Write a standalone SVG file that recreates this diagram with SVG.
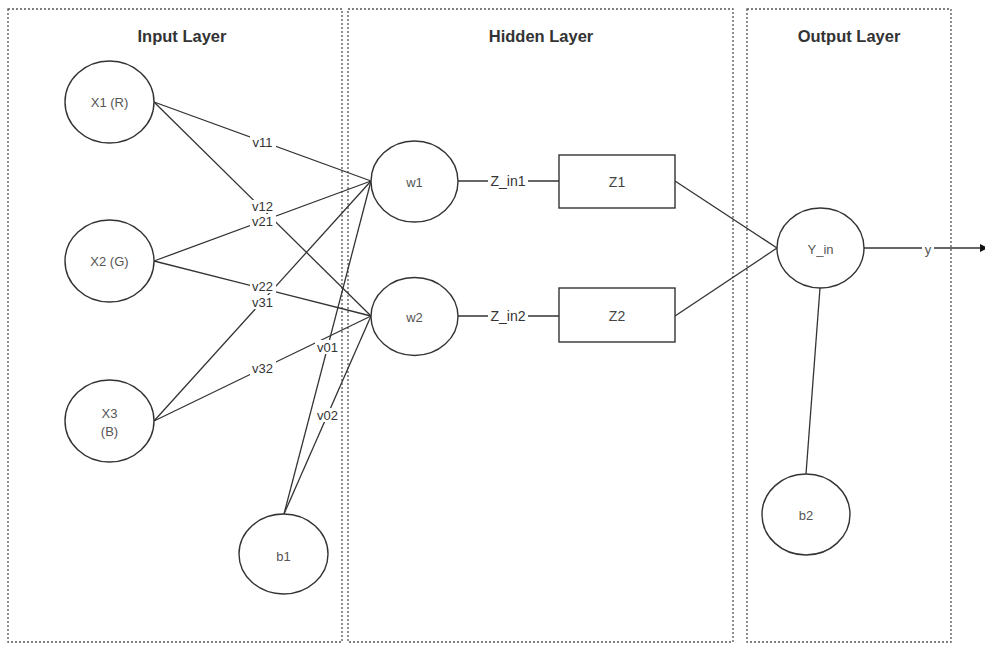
<svg xmlns="http://www.w3.org/2000/svg" width="985" height="646" viewBox="0 0 985 646">
  <defs>
    <style>
      .lane { fill: none; stroke: #555; stroke-width: 1.3; stroke-dasharray: 2 2; }
      .title { font-family: "Liberation Sans", Arial, sans-serif; font-size: 16.5px; font-weight: bold; fill: #333; text-anchor: middle; }
      .node { fill: #fff; stroke: #333; stroke-width: 1.4; }
      .ntext { font-family: "Liberation Sans", Arial, sans-serif; font-size: 13px; fill: #555; text-anchor: middle; dominant-baseline: central; }
      .btext { font-family: "Liberation Sans", Arial, sans-serif; font-size: 14px; fill: #444; text-anchor: middle; dominant-baseline: central; }
      .edge { fill: none; stroke: #333; stroke-width: 1.3; }
      .elabel { font-family: "Liberation Sans", Arial, sans-serif; font-size: 13px; fill: #333; text-anchor: middle; dominant-baseline: central; }
      .elabel-l { font-family: "Liberation Sans", Arial, sans-serif; font-size: 14px; fill: #333; text-anchor: middle; dominant-baseline: central; }
      .lbg { fill: #fff; }
    </style>
    <marker id="arrow" viewBox="0 0 10 10" refX="9" refY="5" markerWidth="8" markerHeight="8" orient="auto" markerUnits="userSpaceOnUse">
      <path d="M0,0 L10,5 L0,10 Z" fill="#111"/>
    </marker>
  </defs>

  <rect width="985" height="646" fill="#fff"/>

  <!-- layer lanes -->
  <g id="lanes">
    <rect class="lane" x="8" y="9" width="334" height="633"/>
    <rect class="lane" x="348" y="9" width="385" height="633"/>
    <rect class="lane" x="747" y="9" width="204" height="633"/>
    <text class="title" x="182" y="42">Input Layer</text>
    <text class="title" x="541" y="42">Hidden Layer</text>
    <text class="title" x="849" y="42">Output Layer</text>
  </g>

  <!-- connectors -->
  <g id="connectors">
    <line class="edge" x1="154" y1="102" x2="371" y2="181"/>
    <line class="edge" x1="154" y1="102" x2="371" y2="316"/>
    <line class="edge" x1="154" y1="261" x2="371" y2="181"/>
    <line class="edge" x1="154" y1="261" x2="371" y2="316"/>
    <line class="edge" x1="154" y1="421" x2="371" y2="181"/>
    <line class="edge" x1="154" y1="421" x2="371" y2="316"/>
    <line class="edge" x1="284" y1="514" x2="371" y2="181"/>
    <line class="edge" x1="284" y1="514" x2="371" y2="316"/>
    <line class="edge" x1="458" y1="181" x2="559" y2="181"/>
    <line class="edge" x1="458" y1="316" x2="559" y2="316"/>
    <line class="edge" x1="675" y1="181" x2="777" y2="248"/>
    <line class="edge" x1="675" y1="316" x2="777" y2="248"/>
    <line class="edge" x1="820" y1="288" x2="806" y2="474"/>
    <line class="edge" x1="864" y1="248" x2="987" y2="248" marker-end="url(#arrow)"/>

    <!-- edge labels -->
    <rect class="lbg" x="250" y="135" width="26" height="14"/>
    <text class="elabel" x="262.5" y="142">v11</text>
    <rect class="lbg" x="250" y="200" width="26" height="13"/>
    <text class="elabel" x="262.5" y="206">v12</text>
    <rect class="lbg" x="250" y="214" width="26" height="14"/>
    <text class="elabel" x="262.5" y="221">v21</text>
    <rect class="lbg" x="250" y="280" width="26" height="13"/>
    <text class="elabel" x="262.5" y="286">v22</text>
    <rect class="lbg" x="250" y="295" width="26" height="14"/>
    <text class="elabel" x="262.5" y="302">v31</text>
    <rect class="lbg" x="250" y="361" width="26" height="14"/>
    <text class="elabel" x="262.5" y="368">v32</text>
    <rect class="lbg" x="315" y="340" width="26" height="14"/>
    <text class="elabel" x="327.5" y="347">v01</text>
    <rect class="lbg" x="315" y="408" width="26" height="14"/>
    <text class="elabel" x="327.5" y="415">v02</text>
    <rect class="lbg" x="488" y="173" width="40" height="16"/>
    <text class="elabel-l" x="508" y="181">Z_in1</text>
    <rect class="lbg" x="488" y="308" width="40" height="16"/>
    <text class="elabel-l" x="508" y="316">Z_in2</text>
    <rect class="lbg" x="922" y="242" width="12" height="14"/>
    <text class="ntext" x="928" y="249">y</text>
  </g>

  <!-- input layer nodes -->
  <g id="x1">
    <ellipse class="node" cx="109.5" cy="102" rx="44.5" ry="41"/>
    <text class="ntext" x="109.5" y="102">X1 (R)</text>
  </g>
  <g id="x2">
    <ellipse class="node" cx="109.5" cy="261" rx="44.5" ry="41"/>
    <text class="ntext" x="109.5" y="261">X2 (G)</text>
  </g>
  <g id="x3">
    <ellipse class="node" cx="109.5" cy="421" rx="44.5" ry="41"/>
    <text class="ntext" x="109.5" y="413">X3</text>
    <text class="ntext" x="109.5" y="431">(B)</text>
  </g>
  <g id="b1">
    <ellipse class="node" cx="283.5" cy="554" rx="44.5" ry="40"/>
    <text class="ntext" x="283.5" y="556">b1</text>
  </g>

  <!-- hidden layer nodes -->
  <g id="w1">
    <ellipse class="node" cx="414.5" cy="181.5" rx="43.5" ry="40.5"/>
    <text class="ntext" x="414.5" y="182">w1</text>
  </g>
  <g id="w2">
    <ellipse class="node" cx="414.5" cy="316.5" rx="43.5" ry="39"/>
    <text class="ntext" x="414.5" y="317">w2</text>
  </g>
  <g id="z1">
    <rect class="node" x="559" y="155" width="116" height="53"/>
    <text class="btext" x="617" y="182">Z1</text>
  </g>
  <g id="z2">
    <rect class="node" x="559" y="288" width="116" height="54"/>
    <text class="btext" x="617" y="316">Z2</text>
  </g>

  <!-- output layer nodes -->
  <g id="y_in">
    <ellipse class="node" cx="820.5" cy="248" rx="43.5" ry="40"/>
    <text class="ntext" x="820.5" y="249">Y_in</text>
  </g>
  <g id="b2">
    <ellipse class="node" cx="806" cy="514.5" rx="44" ry="40.5"/>
    <text class="ntext" x="806" y="515">b2</text>
  </g>
</svg>
